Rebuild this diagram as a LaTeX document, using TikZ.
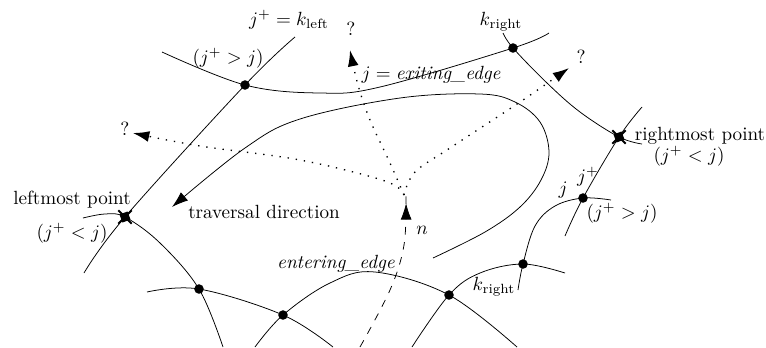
\documentclass[tikz,border=0pt]{standalone}
\usepackage{amsmath}
\usetikzlibrary{arrows.meta, decorations.markings}
\tikzset{
  edgeline/.style={thin},
  dot/.style={circle, fill, inner sep=0pt, minimum size=5pt},
  extreme/.style={rectangle, fill, inner sep=0pt, minimum size=4.5pt},
  travarrow/.style={-{Latex[length=3mm, width=2mm]}},
  probe/.style={-{Latex[length=3mm, width=2mm]}, dash pattern=on 0.7pt off 3.6pt, line width=0.7pt},
  walk/.style={dash pattern=on 4pt off 4pt, postaction={decorate},
    decoration={markings, mark=at position 0.955 with {\arrow{Latex[length=3mm, width=2mm]}}}},
}

\begin{document}
\begin{tikzpicture}[x=0.0184cm, y=-0.0184cm]
  \useasboundingbox (0,0) rectangle (766,347);

  % Crossing points
  \coordinate (kl) at (245,85);
  \coordinate (kr) at (513,48);
  \coordinate (lm) at (125,217);
  \coordinate (rm) at (619,137);
  \coordinate (jp) at (583,198);
  \coordinate (kr2) at (523,264);
  \coordinate (e1) at (449,295);
  \coordinate (e2) at (283,315);
  \coordinate (e3) at (199,289);
  \coordinate (c) at (404,195);

  % Edges
  \draw[edgeline] plot[smooth, tension=0.6] coordinates {(295,37) (kl) (lm) (84,273)};
  \draw[edgeline] plot[smooth, tension=0.6] coordinates {(162,52) (kl) (320,93) (380,87) (kr) (549,33)};
  \draw[edgeline] plot[smooth, tension=0.6] coordinates {(503,33) (kr) (547,83) (580,112) (rm) (642,144)};
  \draw[edgeline] plot[smooth, tension=0.6] coordinates {(642,107) (rm) (jp) (565,236)};
  \draw[edgeline] plot[smooth, tension=0.6] coordinates {(611,200) (jp) (555,206) (535,226) (kr2) (518,290)};
  \draw[edgeline] plot[smooth, tension=0.6] coordinates {(412,347) (e1) (480,273) (kr2) (565,273)};
  \draw[edgeline] plot[smooth, tension=0.6] coordinates {(255,347) (e2) (330,283) (375,272) (e1) (517,347)};
  \draw[edgeline] plot[smooth, tension=0.6] coordinates {(147,292) (e3) (e2) (333,347)};
  \draw[edgeline] plot[smooth, tension=0.6] coordinates {(83,218) (105,214) (lm) (160,243) (e3) (223,347)};

  % Traversal
  \draw[travarrow] plot[smooth, tension=0.6] coordinates {(433,258) (485,232) (520,207) (541,180) (549,152) (540,122) (515,102) (480,94) (400,98) (300,119) (245,148) (172,207)};

  % Walk and probes
  \draw[walk] plot[smooth, tension=0.6] coordinates {(360,347) (390,290) (404,245) (406,196)};
  \draw[probe] plot[smooth, tension=0.6] coordinates {(c) (385,181) (300,160) (200,146) (133,133)};
  \draw[probe] plot[smooth, tension=0.6] coordinates {(c) (390,163) (370,120) (358,85) (350,50)};
  \draw[probe] plot[smooth, tension=0.6] coordinates {(c) (415,172) (450,148) (520,102) (569,68)};

  % Markers
  \foreach \p in {kl, kr, jp, kr2, e1, e2, e3}
    \node[dot] (d\p) at (\p) {};
  \foreach \p in {lm, rm} {
    \node[extreme, rotate=20] (x\p) at (\p) {};
    \draw[line width=1pt] (\p) +(-3.5pt,-3.5pt) -- +(3.5pt,3.5pt) (\p) +(-3.5pt,3.5pt) -- +(3.5pt,-3.5pt);
  }

  % Labels
  \node (lkl) at (289,20) {$j^+ = k_{\text{left}}$};
  \node (ljgt) at (228,58) {$(j^+ > j)$};
  \node (q1) at (351,29) {?};
  \node (lexit) at (431,75) {$j = \textit{exiting\_edge}$};
  \node (lkr) at (501,22) {$k_{\text{right}}$};
  \node (q2) at (581,57) {?};
  \node (lrm) at (700,136) {rightmost point};
  \node (lrmj) at (689,156) {$(j^+ < j)$};
  \node (q3) at (125,129) {?};
  \node (llm) at (72,200) {leftmost point};
  \node (llmj) at (72,233) {$(j^+ < j)$};
  \node (ltrav) at (264,212) {traversal direction};
  \node (ln) at (422,230) {$n$};
  \node (lent) at (336,264) {\textit{entering\_edge}};
  \node (lj) at (563,190) {$j$};
  \node (ljp) at (588,177) {$j^+$};
  \node (ljgt2) at (622,213) {$(j^+ > j)$};
  \node (lkr2) at (494,287) {$k_{\text{right}}$};
\end{tikzpicture}
\end{document}
